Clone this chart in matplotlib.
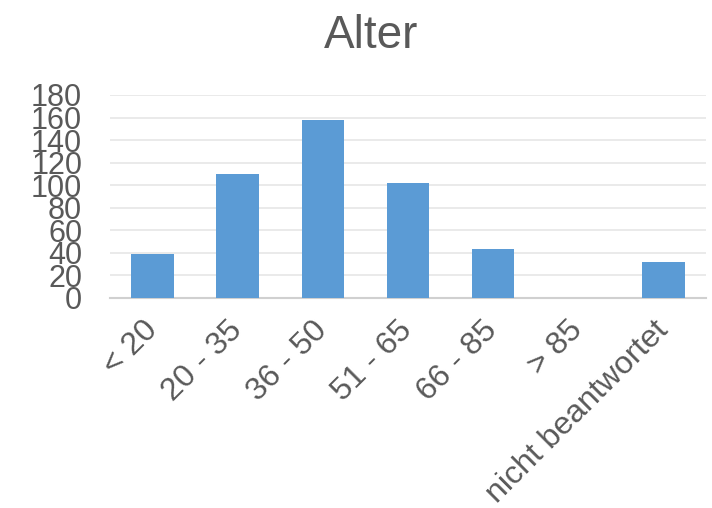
import matplotlib.pyplot as plt
from matplotlib.transforms import ScaledTranslation

plt.rcParams['font.family'] = ['Liberation Sans', 'DejaVu Sans']

categories = ['< 20', '20 - 35', '36 - 50', '51 - 65', '66 - 85', '> 85', 'nicht beantwortet']
counts = [39, 110, 158, 102, 43, 0, 32]
y_ticks = [0, 20, 40, 60, 80, 100, 120, 140, 160, 180]

text_color = '#595959'

fig = plt.figure(figsize=(7.12, 5.08), dpi=100)
ax = fig.add_axes([0.1545, 0.4134, 0.837, 0.3996])

x = list(range(len(categories)))
ax.bar(x, counts, width=0.5, color='#5b9bd5', zorder=3)

ax.set_xlim(-0.5, len(categories) - 0.5)
ax.set_ylim(0, 180)
ax.set_yticks(y_ticks)
ax.set_yticklabels([str(v) for v in y_ticks], fontsize=22, color=text_color)
ax.set_xticks(x)
ax.set_xticklabels(categories, fontsize=23, color=text_color,
                   rotation=45, ha='right', va='center', rotation_mode='anchor')

# etwas nach rechts/unten verschieben wie im Original
offset = ScaledTranslation(5 / 100, -4 / 100, fig.dpi_scale_trans)
for lbl in ax.get_xticklabels():
    lbl.set_transform(lbl.get_transform() + offset)

ax.tick_params(axis='y', length=0, pad=20)
ax.tick_params(axis='x', length=0, pad=20)

ax.grid(axis='y', color='#e6e6e6', linewidth=1.2, zorder=0)
for side in ['top', 'right', 'left']:
    ax.spines[side].set_visible(False)
ax.spines['bottom'].set_color('#d0d0d0')
ax.spines['bottom'].set_linewidth(1.5)

fig.text(0.521, 0.93, 'Alter', fontsize=33, color=text_color, ha='center', va='center')

fig.savefig('out.png', dpi=100)
